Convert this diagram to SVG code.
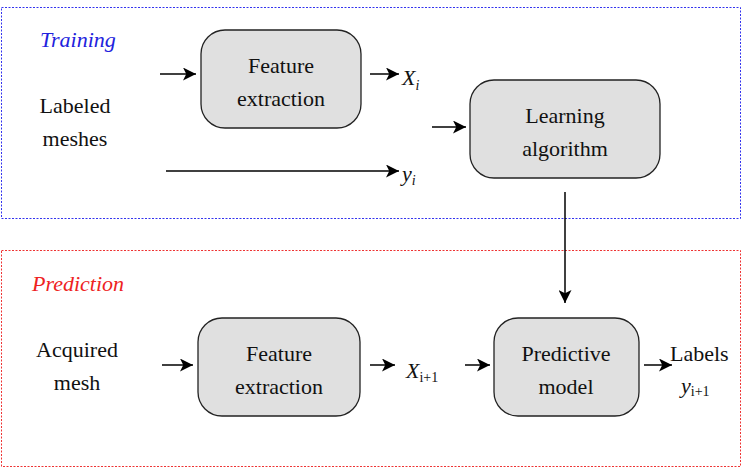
<svg xmlns="http://www.w3.org/2000/svg" width="743" height="471" viewBox="0 0 743 471">
<style>
text{font-family:"Liberation Serif","Times New Roman",Times,serif;font-size:22px;fill:#111}
.c{text-anchor:middle}
.n{fill:#e0e0e0;stroke:#222;stroke-width:1.3}
.e{stroke:#000;stroke-width:1.5;fill:none;marker-end:url(#a)}
.i{font-style:italic}
</style>
<defs><marker id="a" viewBox="0 0 10 10" refX="10" refY="5" markerWidth="14" markerHeight="13" markerUnits="userSpaceOnUse" orient="auto"><path d="M0,0L10,5L0,10L2.5,5z" fill="#000"/></marker></defs>
<rect x="1.5" y="7.5" width="739" height="211" fill="none" stroke="#3333ee" stroke-dasharray="2,1.5"/>
<rect x="1.5" y="250.5" width="739" height="216" fill="none" stroke="#ee3333" stroke-dasharray="2,1.5"/>
<text x="40" y="47" class="i" style="fill:#2222dd">Training</text>
<text x="32" y="291" class="i" style="fill:#ee2222">Prediction</text>
<g id="labeled"><text x="75" y="113" class="c">Labeled</text><text x="75" y="146" class="c">meshes</text></g>
<g id="fe1"><rect class="n" x="201" y="30" width="160" height="98" rx="24"/><text x="281" y="73" class="c">Feature</text><text x="281" y="106" class="c">extraction</text></g>
<g id="la"><rect class="n" x="470" y="80" width="190" height="98" rx="24"/><text x="565" y="123" class="c">Learning</text><text x="565" y="156" class="c">algorithm</text></g>
<g id="xi"><text x="402" y="85" class="i">X<tspan font-size="14" dy="5">i</tspan></text></g>
<g id="yi"><text x="402" y="181" class="i">y<tspan font-size="14" dy="4">i</tspan></text></g>
<g id="acq"><text x="77" y="357" class="c">Acquired</text><text x="77" y="390" class="c">mesh</text></g>
<g id="fe2"><rect class="n" x="198" y="318" width="162" height="98" rx="24"/><text x="279" y="361" class="c">Feature</text><text x="279" y="394" class="c">extraction</text></g>
<g id="pm"><rect class="n" x="494" y="318" width="145" height="98" rx="24"/><text x="566" y="361" class="c">Predictive</text><text x="566" y="394" class="c">model</text></g>
<g id="xi1"><text x="406" y="378" class="i">X<tspan font-size="14" dy="4" font-style="normal">i+1</tspan></text></g>
<g id="labels"><text x="670" y="361">Labels</text><text x="681" y="393" class="i">y<tspan font-size="14" dy="3" font-style="normal">i+1</tspan></text></g>
<g id="connectors">
<path class="e" d="M160,74H196"/>
<path class="e" d="M370,74H399"/>
<path class="e" d="M432,127H466"/>
<path class="e" d="M166,171H399"/>
<path class="e" d="M565,192V303"/>
<path class="e" d="M162,365H193"/>
<path class="e" d="M370,365H395"/>
<path class="e" d="M465,365H490"/>
<path class="e" d="M644,365H672"/>
</g>
</svg>
